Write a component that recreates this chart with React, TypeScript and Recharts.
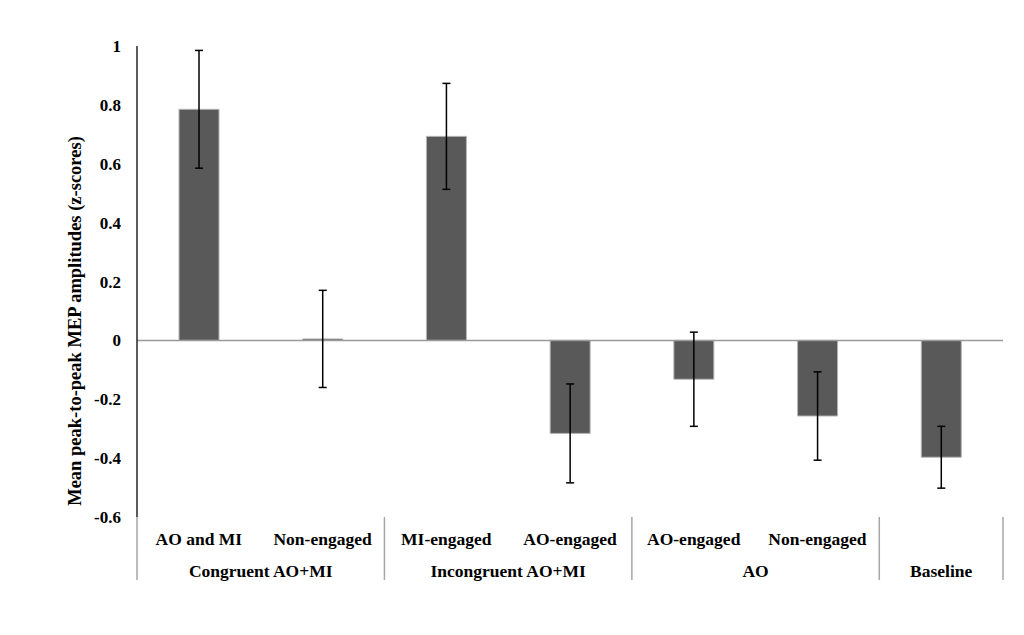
import React from 'react';
import { BarChart, Bar, XAxis, YAxis, ErrorBar, ReferenceLine } from 'recharts';

const categories = ['AO and MI', 'Non-engaged', 'MI-engaged', 'AO-engaged', 'AO-engaged', 'Non-engaged', ''];
const means = [0.785, 0.005, 0.693, -0.316, -0.132, -0.257, -0.397];
const errors = [0.2, 0.165, 0.18, 0.168, 0.16, 0.15, 0.105];
const groupLabels = ['Congruent AO+MI', 'Incongruent AO+MI', 'AO', 'Baseline'];
const groupStarts = [0, 2, 4, 6];
const groupCounts = [2, 2, 2, 1];
const yTicks = [-0.6, -0.4, -0.2, 0, 0.2, 0.4, 0.6, 0.8, 1];
const yLabel = 'Mean peak-to-peak MEP amplitudes (z-scores)';

const data = categories.map((c, i) => ({ idx: i, name: c, mean: means[i], err: errors[i] }));

const W = 1008;
const H = 619;
const M = { top: 38, right: 13, left: 69, bottom: 30 };
const YW = 60;
const XH = 80;
const PLOT_W = W - M.left - YW - M.right;
const BW = PLOT_W / categories.length;
const FONT = '"Liberation Serif", "Times New Roman", serif';

const CatTick = (props: any) => {
  const { x, y, payload } = props;
  const i = payload.value as number;
  const g = groupStarts.indexOf(i);
  const elems: any[] = [];
  elems.push(
    <text key="c" x={x} y={y + 22} textAnchor="middle" dominantBaseline="central"
      fontFamily={FONT} fontWeight="bold" fontSize={17.5} fill="#000">{categories[i]}</text>
  );
  if (g >= 0) {
    const left = x - BW / 2;
    const cx = left + (groupCounts[g] * BW) / 2;
    elems.push(<line key="s" x1={left} x2={left} y1={y} y2={y + 63} stroke="#a6a6a6" strokeWidth={1.5} />);
    elems.push(
      <text key="g" x={cx} y={y + 54} textAnchor="middle" dominantBaseline="central"
        fontFamily={FONT} fontWeight="bold" fontSize={17.5} fill="#000">{groupLabels[g]}</text>
    );
    if (g === groupStarts.length - 1) {
      const right = left + groupCounts[g] * BW;
      elems.push(<line key="e" x1={right} x2={right} y1={y} y2={y + 63} stroke="#a6a6a6" strokeWidth={1.5} />);
    }
  }
  return <g>{elems}</g>;
};

const YLabel = () => (
  <text x={67} y={313} transform="rotate(-90, 67, 313)" textAnchor="middle" dominantBaseline="central"
    fontFamily={FONT} fontWeight="bold" fontSize={18.5} fill="#000">{yLabel}</text>
);

export default function App() {
  return (
    <div style={{ width: W, height: H, background: '#fff' }}>
      <BarChart width={W} height={H} data={data} margin={M}>
        <XAxis dataKey="idx" type="category" height={XH} axisLine={false} tickLine={false}
          tickSize={0} tickMargin={0} interval={0} tick={<CatTick />} />
        <YAxis type="number" domain={[-0.6, 1]} ticks={yTicks} width={YW} tickLine={false}
          tickSize={0} tickMargin={16} axisLine={{ stroke: '#262626', strokeWidth: 1.5 }}
          tick={{ fontFamily: FONT, fontWeight: 'bold', fontSize: 17, fill: '#000' }}
          label={{ content: () => <YLabel /> }} />
        <ReferenceLine y={0} stroke="#9a9a9a" strokeWidth={1.5} />
        <Bar dataKey="mean" fill="#595959" stroke="#b5b5b5" strokeWidth={1} barSize={40} isAnimationActive={false}>
          <ErrorBar dataKey="err" width={4} stroke="#000" strokeWidth={1.5} direction="y" />
        </Bar>
      </BarChart>
    </div>
  );
}
